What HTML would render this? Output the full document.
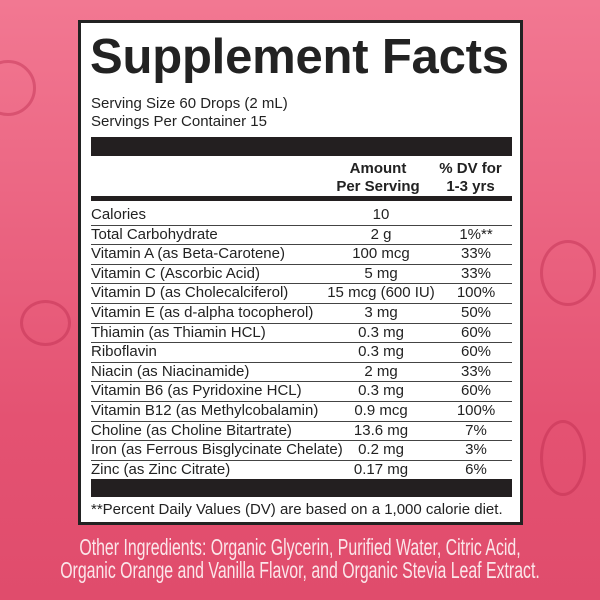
<!DOCTYPE html>
<html><head><style>
body{margin:0;width:600px;height:600px;overflow:hidden;background:linear-gradient(#f27892,#e45272 70%,#e04c6c);font-family:"Liberation Sans",sans-serif;position:relative}
.box{position:absolute;left:78px;top:20px;width:439px;height:499px;background:#fff;border:3px solid #222}
.a{position:absolute;color:#222;white-space:nowrap}
.bar{position:absolute;left:10px;width:421px;background:#231f20}
.r{position:absolute;left:10px;width:421px;height:19.6px;font-size:15px;line-height:19px;color:#222;border-bottom:1px solid #444;white-space:nowrap}
.r span{position:absolute;top:0}
.r .n{left:0}.r .v{left:240px;width:100px;text-align:center}.r .d{left:345px;width:80px;text-align:center}
.oi{position:absolute;left:-50px;width:700px;text-align:center;color:#fbe6ea;font-family:"Liberation Sans Narrow","Liberation Sans",sans-serif;font-size:23px;transform:scaleX(.69);transform-origin:center;white-space:nowrap}
.deco{position:absolute;border:3px solid #b8284a;border-radius:50%;opacity:.4}
</style></head><body>
<div class="deco" style="left:-20px;top:60px;width:50px;height:50px"></div>
<div class="deco" style="left:20px;top:300px;width:45px;height:40px"></div>
<div class="deco" style="left:540px;top:240px;width:50px;height:60px"></div>
<div class="deco" style="left:540px;top:420px;width:40px;height:70px"></div>
<div class="box">
<div class="a" style="left:9px;top:6px;font-size:49px;font-weight:bold;letter-spacing:-0.2px">Supplement Facts</div>
<div class="a" style="left:10px;top:72px;font-size:15px;line-height:18px">Serving Size 60 Drops (2 mL)<br>Servings Per Container 15</div>
<div class="bar" style="top:114px;height:19px"></div>
<div class="a" style="left:245px;top:137px;width:104px;text-align:center;font-size:15px;font-weight:bold;line-height:18px">Amount<br>Per Serving</div>
<div class="a" style="left:350px;top:137px;width:79px;text-align:center;font-size:15px;font-weight:bold;line-height:18px">% DV for<br>1-3 yrs</div>
<div class="bar" style="top:173px;height:5px"></div>
<div class="r" style="top:182px"><span class="n">Calories</span><span class="v">10</span><span class="d"></span></div>
<div class="r" style="top:201.6px"><span class="n">Total Carbohydrate</span><span class="v">2 g</span><span class="d">1%**</span></div>
<div class="r" style="top:221.2px"><span class="n">Vitamin A (as Beta-Carotene)</span><span class="v">100 mcg</span><span class="d">33%</span></div>
<div class="r" style="top:240.8px"><span class="n">Vitamin C (Ascorbic Acid)</span><span class="v">5 mg</span><span class="d">33%</span></div>
<div class="r" style="top:260.4px"><span class="n">Vitamin D (as Cholecalciferol)</span><span class="v" style="left:230px;width:120px">15 mcg (600 IU)</span><span class="d">100%</span></div>
<div class="r" style="top:280px"><span class="n">Vitamin E (as d-alpha tocopherol)</span><span class="v">3 mg</span><span class="d">50%</span></div>
<div class="r" style="top:299.6px"><span class="n">Thiamin (as Thiamin HCL)</span><span class="v">0.3 mg</span><span class="d">60%</span></div>
<div class="r" style="top:319.2px"><span class="n">Riboflavin</span><span class="v">0.3 mg</span><span class="d">60%</span></div>
<div class="r" style="top:338.8px"><span class="n">Niacin (as Niacinamide)</span><span class="v">2 mg</span><span class="d">33%</span></div>
<div class="r" style="top:358.4px"><span class="n">Vitamin B6 (as Pyridoxine HCL)</span><span class="v">0.3 mg</span><span class="d">60%</span></div>
<div class="r" style="top:378px"><span class="n">Vitamin B12 (as Methylcobalamin)</span><span class="v">0.9 mcg</span><span class="d">100%</span></div>
<div class="r" style="top:397.6px"><span class="n">Choline (as Choline Bitartrate)</span><span class="v">13.6 mg</span><span class="d">7%</span></div>
<div class="r" style="top:417.2px"><span class="n">Iron (as Ferrous Bisglycinate Chelate)</span><span class="v">0.2 mg</span><span class="d">3%</span></div>
<div class="r" style="top:436.8px;border-bottom:none"><span class="n">Zinc (as Zinc Citrate)</span><span class="v">0.17 mg</span><span class="d">6%</span></div>
<div class="bar" style="top:456px;height:18px"></div>
<div class="a" style="left:10px;top:478px;font-size:15px">**Percent Daily Values (DV) are based on a 1,000 calorie diet.</div>
</div>
<div class="oi" style="top:534px">Other Ingredients: Organic Glycerin, Purified Water, Citric Acid,</div>
<div class="oi" style="top:557px">Organic Orange and Vanilla Flavor, and Organic Stevia Leaf Extract.</div>
</body></html>
